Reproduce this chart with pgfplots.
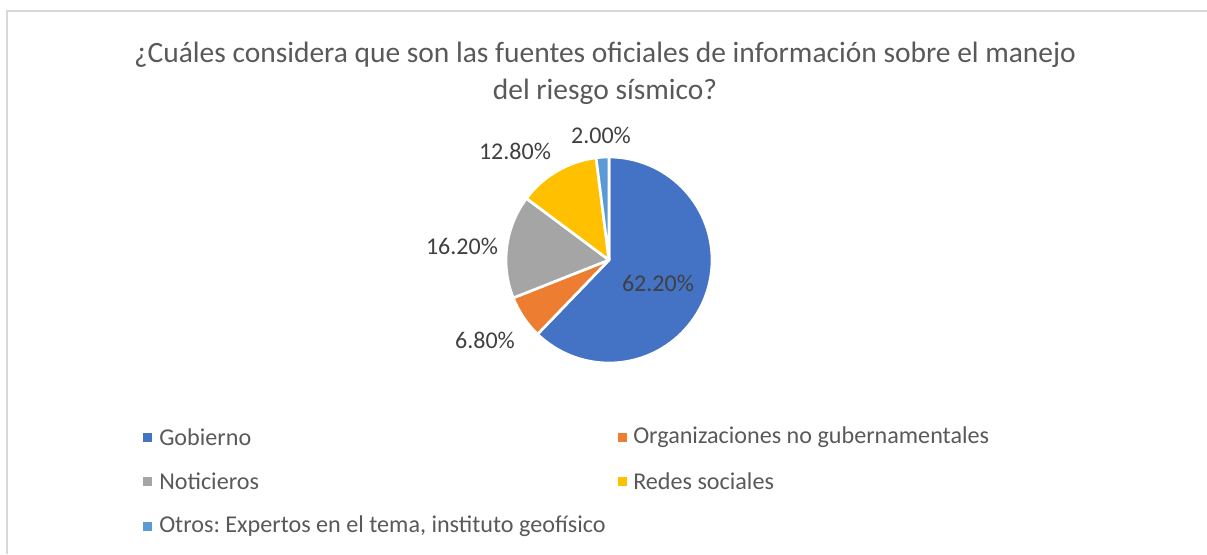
\documentclass[border=0pt]{standalone}
\usepackage{pgfplots}
\pgfplotsset{compat=1.18}
\usepackage{fontspec}
\setmainfont{Carlito}
\frenchspacing
\definecolor{txt}{HTML}{595959}
\definecolor{lbl}{HTML}{404040}
\definecolor{frame}{HTML}{D9D9D9}
\definecolor{c1}{HTML}{4472C4}
\definecolor{c2}{HTML}{ED7D31}
\definecolor{c3}{HTML}{A5A5A5}
\definecolor{c4}{HTML}{FFC000}
\definecolor{c5}{HTML}{5B9BD5}
\begin{document}
\begin{tikzpicture}
\begin{axis}[
  hide axis, scale only axis,
  width=905.25pt, height=415.5pt,
  xmin=0, xmax=1207, ymin=0, ymax=554, y dir=reverse,
  clip=false, at={(0,0)}, anchor=south west,
]
% frame (top and left only)
\draw[frame, line width=1.3pt] (axis cs:7,554) -- (axis cs:7,11) -- (axis cs:1207,11);
% pie slices: value (%) / colour
\pgfplotsextra{%
  \def\acc{90}%
  \foreach \v/\c in {62.2/c1, 6.8/c2, 16.2/c3, 12.8/c4, 2.0/c5}{%
    \pgfmathsetmacro\e{\acc-3.6*\v}%
    \filldraw[fill=\c, draw=white, line width=2pt, line join=round]
      (axis cs:609,260) -- ++(\acc:77.25pt)
      arc[start angle=\acc, end angle=\e, radius=77.25pt] -- cycle;
    \global\let\acc\e
  }%
}
% title
\node[txt, font=\fontsize{22.1}{26}\selectfont] at (axis cs:605,55) {¿Cuáles considera que son las fuentes oficiales de información sobre el manejo};
\node[txt, font=\fontsize{22.1}{26}\selectfont] at (axis cs:605,92) {del riesgo sísmico?};
% data labels
\begin{scope}[every node/.style={lbl, font=\fontsize{18}{22}\selectfont}]
\node at (axis cs:658,283) {62.20\%};
\node at (axis cs:485,340) {6.80\%};
\node at (axis cs:462,246) {16.20\%};
\node at (axis cs:515,151) {12.80\%};
\node at (axis cs:601,135) {2.00\%};
\end{scope}
% legend
\begin{scope}[every node/.style={txt, font=\fontsize{18.1}{22}\selectfont, anchor=west, inner sep=0pt}]
\fill[c1] (axis cs:142.5,432.5) rectangle (axis cs:151.5,441.5);
\node at (axis cs:159,437) {Gobierno};
\fill[c2] (axis cs:617.5,432.5) rectangle (axis cs:626.5,441.5);
\node at (axis cs:633,437) {Organizaciones no gubernamentales};
\fill[c3] (axis cs:142.5,476.5) rectangle (axis cs:151.5,485.5);
\node at (axis cs:159,481) {Noticieros};
\fill[c4] (axis cs:617.5,476.5) rectangle (axis cs:626.5,485.5);
\node at (axis cs:633,481) {Redes sociales};
\fill[c5] (axis cs:142.5,521.5) rectangle (axis cs:151.5,530.5);
\node at (axis cs:159,526) {Otros: Expertos en el tema, instituto geofísico};
\end{scope}
\end{axis}
\pgfresetboundingbox
\useasboundingbox (0,0) rectangle (905.25pt,415.5pt);
\end{tikzpicture}
\end{document}
